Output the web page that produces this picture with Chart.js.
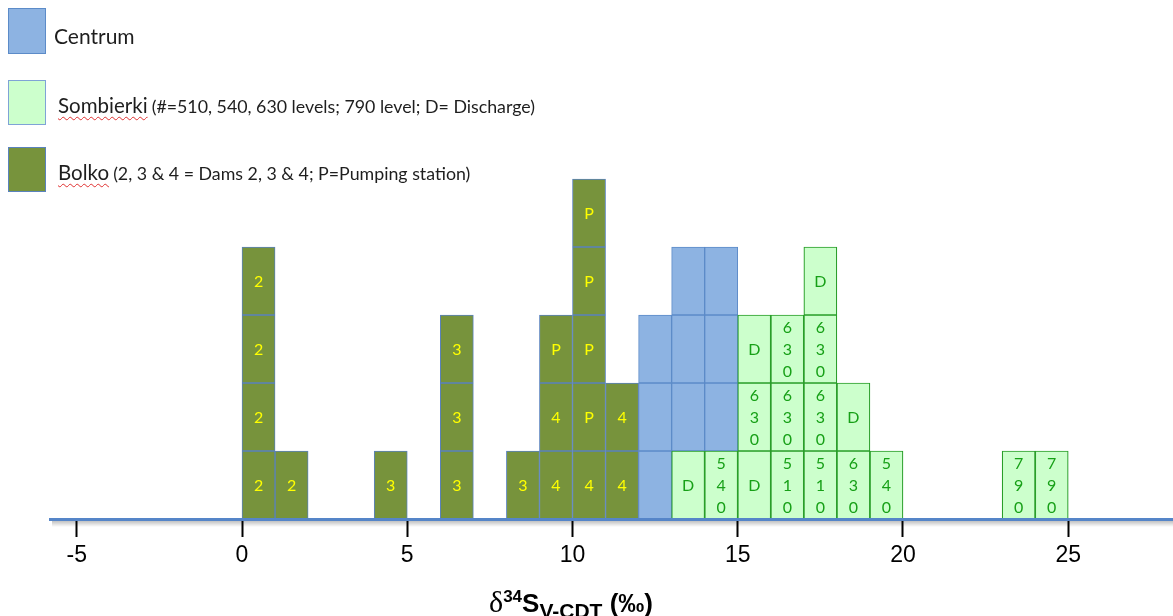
<!DOCTYPE html>
<html>
<head>
<meta charset="utf-8">
<title>δ34S distribution – Centrum, Sombierki, Bolko</title>
<script src="https://cdn.jsdelivr.net/npm/chart.js@4.4.1/dist/chart.umd.min.js"></script>
<style>
  html, body { margin: 0; padding: 0; background: #fff; }
  #wrap { position: relative; width: 1173px; height: 616px; overflow: hidden; }
  #wrap canvas { position: absolute; left: 0; top: 0; }
  .key { position: absolute; left: 8px; width: 38px; box-sizing: border-box; border: 1.5px solid #6f97cf; }
  .keyText { position: absolute; color: #1e1e1e; font-family: Lato, "Open Sans", sans-serif; white-space: nowrap; line-height: 1; }
  .keyText .name { font-size: 20.5px; }
  .keyText .note { font-size: 17.8px; }
  .squiggle { text-decoration: underline wavy #e03030; text-decoration-thickness: 1px; text-underline-offset: 3px; }
  #xtitle { position: absolute; left: 489px; top: 587px; font-family: "Liberation Sans", Arial, sans-serif; font-weight: bold; font-size: 26px; color: #000; white-space: nowrap; line-height: 1; }
  #xtitle .delta { font-family: "Liberation Serif", "DejaVu Serif", serif; font-weight: normal; font-size: 30px; }
  #xtitle sup { font-size: 17px; vertical-align: 10px; }
  #xtitle sub { font-size: 21px; vertical-align: -6px; }
</style>
</head>
<body>
<div id="wrap">
  <canvas id="chart" width="1173" height="616"></canvas>
  <div id="legend"></div>
  <div id="xtitle"><span class="delta">δ</span><sup>34</sup>S<sub>V-CDT</sub> (‰)</div>
</div>
<script>
// δ34S bins (‰, bin centres); each entry is one sample box, listed bottom-up within its bin
const bolkoBins   = [0.5, 0.5, 0.5, 0.5, 1.5, 4.5, 6.5, 6.5, 6.5, 8.5, 9.5, 9.5, 9.5,
                     10.5, 10.5, 10.5, 10.5, 10.5, 11.5, 11.5];
const bolkoLabels = ['2', '2', '2', '2', '2', '3', '3', '3', '3', '3', '4', '4', 'P',
                     '4', 'P', 'P', 'P', 'P', '4', '4'];

const sombierkiBins   = [13.5, 14.5, 15.5, 15.5, 15.5, 16.5, 16.5, 16.5, 17.5, 17.5, 17.5, 17.5,
                         18.5, 18.5, 19.5, 23.5, 24.5];
const sombierkiLabels = ['D', '540', 'D', '630', 'D', '510', '630', '630', '510', '630', '630', 'D',
                         '630', 'D', '540', '790', '790'];

const centrumBins = [12.5, 12.5, 12.5, 13.5, 13.5, 13.5, 14.5, 14.5, 14.5];

const xTickValues = [-5, 0, 5, 10, 15, 20, 25];

const legendItems = [
  { name: 'Centrum', note: '' },
  { name: 'Sombierki', note: '(#=510, 540, 630 levels; 790 level; D= Discharge)' },
  { name: 'Bolko', note: '(2, 3 & 4 = Dams 2, 3 & 4; P=Pumping station)' }
];

// Boxes are stacked per bin in the order the groups are added
const binFill = {};
function stackInBins(bins) {
  return bins.map(b => {
    const level = binFill[b] || 0;
    binFill[b] = level + 1;
    return { x: b, y: [level, level + 1] };
  });
}
const bolkoBoxes = stackInBins(bolkoBins);
const sombierkiBoxes = stackInBins(sombierkiBins);
const centrumBoxes = stackInBins(centrumBins);

const colors = {
  Centrum:   { fill: '#8db3e2', border: '#5c8bc8' },
  Sombierki: { fill: '#ccffcc', border: '#2a9e2a', key: '#7fa3d6' },
  Bolko:     { fill: '#77933c', border: '#5a82bd' }
};

// Legend
const legendEl = document.getElementById('legend');
const keyBoxes = [
  { top: 8, height: 46, left: 54, textTop: 25 },
  { top: 80, height: 45, left: 58, textTop: 95 },
  { top: 147, height: 45, left: 58, textTop: 162 }
];
legendItems.forEach((it, i) => {
  const c = colors[it.name];
  const k = keyBoxes[i];
  const box = document.createElement('div');
  box.className = 'key';
  box.style.top = k.top + 'px';
  box.style.height = k.height + 'px';
  box.style.background = c.fill;
  box.style.borderColor = c.key || c.border;
  legendEl.appendChild(box);
  const t = document.createElement('div');
  t.className = 'keyText';
  t.style.left = k.left + 'px';
  t.style.top = k.textTop + 'px';
  if (it.note) {
    t.innerHTML = '<span class="name squiggle">' + it.name + '</span> <span class="note">' + it.note + '</span>';
  } else {
    t.innerHTML = '<span class="name" style="font-size:21px">' + it.name + '</span>';
  }
  legendEl.appendChild(t);
});

// Labels written inside each box; multi-digit levels are stacked vertically
const boxLabels = {
  id: 'boxLabels',
  afterDatasetsDraw(chart) {
    const ctx = chart.ctx;
    chart.data.datasets.forEach((ds, i) => {
      if (!ds.boxText) return;
      const meta = chart.getDatasetMeta(i);
      ctx.save();
      ctx.fillStyle = ds.textColor;
      ctx.font = '16px Lato, "Open Sans", sans-serif';
      ctx.textAlign = 'center';
      ctx.textBaseline = 'middle';
      meta.data.forEach((el, j) => {
        const text = ds.boxText[j];
        const cx = el.x;
        const cy = (el.y + el.base) / 2 + 1;
        if (text.length === 1) {
          ctx.fillText(text, cx, cy);
        } else {
          const chars = text.split('');
          const step = 22;
          chars.forEach((ch, k) => ctx.fillText(ch, cx, cy + (k - (chars.length - 1) / 2) * step));
        }
      });
      ctx.restore();
    });
  }
};

// Soft shadow under the horizontal axis line
const axisShadow = {
  id: 'axisShadow',
  beforeDraw(chart) {
    const { ctx, chartArea } = chart;
    const y = chartArea.bottom + 1;
    const g = ctx.createLinearGradient(0, y, 0, y + 7);
    g.addColorStop(0, 'rgba(0,0,0,0.28)');
    g.addColorStop(1, 'rgba(0,0,0,0)');
    ctx.save();
    ctx.fillStyle = g;
    ctx.fillRect(chartArea.left + 2, y, chartArea.right - chartArea.left, 7);
    ctx.restore();
  }
};

const common = { borderWidth: 1, borderSkipped: false, grouped: false, categoryPercentage: 1, barPercentage: 1 };

new Chart(document.getElementById('chart'), {
  type: 'bar',
  data: {
    datasets: [
      Object.assign({
        label: 'Bolko', data: bolkoBoxes, boxText: bolkoLabels, textColor: '#ffff00',
        backgroundColor: colors.Bolko.fill, borderColor: colors.Bolko.border
      }, common),
      Object.assign({
        label: 'Sombierki', data: sombierkiBoxes, boxText: sombierkiLabels, textColor: '#17a017',
        backgroundColor: colors.Sombierki.fill, borderColor: colors.Sombierki.border
      }, common, { borderWidth: 1.2 }),
      Object.assign({
        label: 'Centrum', data: centrumBoxes,
        backgroundColor: colors.Centrum.fill, borderColor: colors.Centrum.border
      }, common)
    ]
  },
  options: {
    responsive: false,
    devicePixelRatio: 1,
    animation: false,
    layout: { padding: { left: 50, right: 0, top: 111, bottom: 0 } },
    plugins: { legend: { display: false }, tooltip: { enabled: false } },
    scales: {
      x: {
        type: 'linear',
        min: -5.81,
        max: 28.17,
        offset: false,
        afterBuildTicks: axis => { axis.ticks = xTickValues.map(v => ({ value: v })); },
        afterFit: scale => { scale.height = 97; },
        grid: { offset: false, drawOnChartArea: false, drawTicks: true, tickLength: 18, tickColor: '#000', tickWidth: 2 },
        border: { display: true, color: '#5585c8', width: 3, z: 1 },
        ticks: {
          color: '#000',
          font: { family: '"Liberation Sans", Arial, sans-serif', size: 23 },
          padding: 5,
          maxRotation: 0,
          autoSkip: false
        }
      },
      y: { display: false, min: 0, max: 6 }
    }
  },
  plugins: [boxLabels, axisShadow]
});
</script>
</body>
</html>
